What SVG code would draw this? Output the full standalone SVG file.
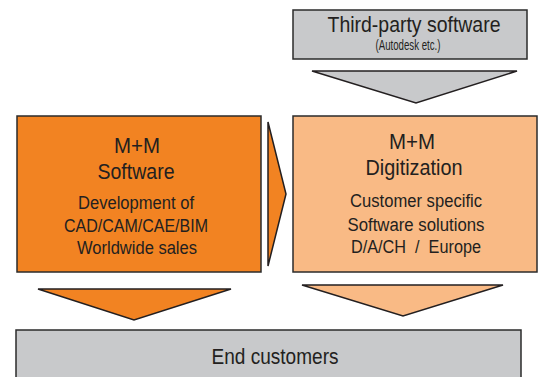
<svg xmlns="http://www.w3.org/2000/svg" width="539" height="377" viewBox="0 0 539 377">
<style>
.box{stroke:#2b2b2b;stroke-width:1.5}
.gray{fill:#c8c9cb}
.dark{fill:#f28322}
.light{fill:#f9ba85}
.arr{stroke:#231f20;stroke-width:1.5;stroke-linejoin:miter}
text{font-family:"Liberation Sans",Arial,sans-serif;fill:#231f20;text-anchor:middle}
.t{font-size:22px}
.b{font-size:18px}
.s{font-size:14px}
</style>
<rect width="539" height="377" fill="#ffffff"/>
<g id="third-party">
<rect class="box gray" x="293" y="10" width="234" height="49"/>
<text class="t" x="414" y="32" textLength="173" lengthAdjust="spacingAndGlyphs">Third-party software</text>
<text class="s" x="408" y="50" textLength="65" lengthAdjust="spacingAndGlyphs">(Autodesk etc.)</text>
</g>
<g id="mm-software">
<rect class="box dark" x="17" y="116" width="244" height="156"/>
<text class="t" x="137" y="153" textLength="46" lengthAdjust="spacingAndGlyphs">M+M</text>
<text class="t" x="136" y="179" textLength="77" lengthAdjust="spacingAndGlyphs">Software</text>
<text class="b" x="136" y="209" textLength="116" lengthAdjust="spacingAndGlyphs">Development of</text>
<text class="b" x="136" y="232" textLength="144" lengthAdjust="spacingAndGlyphs">CAD/CAM/CAE/BIM</text>
<text class="b" x="137" y="254" textLength="120" lengthAdjust="spacingAndGlyphs">Worldwide sales</text>
</g>
<g id="mm-digitization">
<rect class="box light" x="293" y="116" width="244" height="156"/>
<text class="t" x="412" y="149" textLength="46" lengthAdjust="spacingAndGlyphs">M+M</text>
<text class="t" x="414" y="175" textLength="97" lengthAdjust="spacingAndGlyphs">Digitization</text>
<text class="b" x="416" y="207" textLength="132" lengthAdjust="spacingAndGlyphs">Customer specific</text>
<text class="b" x="416" y="231" textLength="137" lengthAdjust="spacingAndGlyphs">Software solutions</text>
<text class="b" x="416" y="253" textLength="130" lengthAdjust="spacingAndGlyphs" xml:space="preserve">D/A/CH  /  Europe</text>
</g>
<g id="end-customers">
<rect class="box gray" x="16" y="330" width="505" height="60"/>
<text class="t" x="275" y="364" textLength="127" lengthAdjust="spacingAndGlyphs">End customers</text>
</g>
<g id="connectors">
<polygon class="arr gray" points="312,71 517,71 416,103"/>
<polygon class="arr dark" points="268,122 286,194 268,266"/>
<polygon class="arr dark" points="38,289 231,289 134,320"/>
<polygon class="arr light" points="302,285 503,285 403,316"/>
</g>
</svg>
